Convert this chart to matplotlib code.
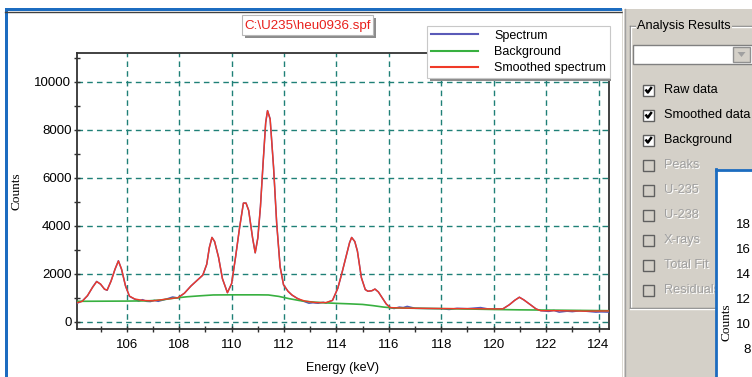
import matplotlib
matplotlib.use('Agg')
import matplotlib.pyplot as plt
from matplotlib.patches import Rectangle, Polygon
from matplotlib.ticker import MultipleLocator

plt.rcParams['font.family'] = ['Liberation Sans', 'DejaVu Sans']

# ---------------- data ----------------
smooth_energy = [104.1, 104.3, 104.5, 104.7, 104.85, 105.0, 105.15, 105.25, 105.4, 105.55,
                 105.68, 105.8, 105.95, 106.1, 106.3, 106.6, 107.0, 107.5, 107.95, 108.2,
                 108.45, 108.65, 108.9, 109.05, 109.15, 109.25, 109.35, 109.5, 109.65, 109.84,
                 110.0, 110.15, 110.3, 110.45, 110.55, 110.65, 110.8, 110.9, 111.0, 111.1,
                 111.2, 111.3, 111.37, 111.47, 111.6, 111.72, 111.85, 111.98, 112.15, 112.3,
                 112.5, 112.8, 113.2, 113.6, 113.85, 114.05, 114.2, 114.35, 114.5, 114.58,
                 114.7, 114.8, 114.95, 115.1, 115.2, 115.35, 115.47, 115.6, 115.75, 115.9,
                 116.05, 116.5, 117.0, 118.0, 119.0, 120.0, 120.35, 120.6, 120.8, 120.98,
                 121.15, 121.4, 121.62, 121.8, 122.5, 123.5, 124.4]
smooth_counts = [800, 860, 1100, 1450, 1680, 1580, 1360, 1330, 1700, 2200,
                 2540, 2200, 1500, 1080, 960, 900, 880, 950, 1010, 1200,
                 1500, 1700, 1950, 2400, 3100, 3520, 3350, 2700, 1800, 1220,
                 1600, 2700, 3900, 4950, 4950, 4650, 3500, 2880, 3500, 4800,
                 6600, 8300, 8800, 8450, 6450, 4100, 2300, 1550, 1280, 1130,
                 980, 870, 810, 810, 900, 1400, 2000, 2650, 3300, 3520,
                 3350, 2950, 1850, 1350, 1280, 1300, 1370, 1250, 1000, 750,
                 600, 580, 570, 560, 555, 545, 545, 720, 900, 1030,
                 920, 720, 540, 470, 470, 450, 460]

bg_energy = [104.1, 105.0, 106.0, 106.8, 107.3, 107.8, 108.3, 108.8, 109.3, 110.0,
             111.0, 111.4, 111.8, 112.2, 112.6, 113.0, 113.5, 114.0, 114.5, 115.0,
             115.4, 115.8, 116.1, 117.0, 118.0, 119.0, 120.0, 121.0, 122.0, 123.0, 124.4]
bg_counts = [860, 865, 870, 880, 915, 990, 1050, 1090, 1125, 1130,
             1130, 1125, 1065, 970, 890, 840, 800, 775, 755, 730,
             680, 620, 590, 570, 555, 540, 520, 505, 495, 485, 470]

raw_energy = [104.1, 104.3, 104.5, 104.7, 104.85, 105.0, 105.15, 105.25, 105.4, 105.55,
              105.68, 105.8, 105.95, 106.1, 106.3, 106.45, 106.6, 106.75, 106.9, 107.05,
              107.2, 107.5, 107.75, 107.95, 108.2, 108.45, 108.65, 108.9, 109.05, 109.15,
              109.25, 109.35, 109.5, 109.65, 109.84, 110.0, 110.15, 110.3, 110.45, 110.55,
              110.65, 110.8, 110.9, 111.0, 111.1, 111.2, 111.3, 111.37, 111.47, 111.6,
              111.72, 111.85, 111.98, 112.15, 112.3, 112.5, 112.65, 112.8, 112.95, 113.1,
              113.3, 113.5, 113.6, 113.85, 114.05, 114.2, 114.35, 114.5, 114.58, 114.7,
              114.8, 114.95, 115.1, 115.2, 115.35, 115.47, 115.6, 115.75, 115.9, 116.05,
              116.2, 116.4, 116.55, 116.7, 116.85, 117.0, 117.5, 118.0, 118.3, 118.6,
              119.0, 119.5, 119.8, 120.0, 120.35, 120.6, 120.8, 120.98, 121.15, 121.4,
              121.62, 121.8, 122.1, 122.3, 122.5, 122.8, 123.0, 123.3, 123.6, 123.9,
              124.1, 124.4]
raw_counts = [780, 870, 1090, 1460, 1690, 1570, 1370, 1320, 1710, 2190,
              2550, 2190, 1510, 1070, 950, 870, 930, 860, 850, 900,
              860, 950, 1040, 1000, 1200, 1500, 1700, 1950, 2400, 3100,
              3520, 3350, 2700, 1800, 1220, 1600, 2700, 3900, 4950, 4950,
              4650, 3500, 2880, 3500, 4800, 6600, 8300, 8800, 8450, 6450,
              4100, 2300, 1550, 1280, 1120, 990, 900, 840, 780, 800,
              780, 820, 790, 900, 1400, 2000, 2650, 3300, 3520, 3350,
              2950, 1850, 1350, 1280, 1300, 1370, 1250, 1000, 750, 600,
              560, 620, 600, 650, 610, 570, 560, 555, 520, 570,
              555, 600, 540, 545, 545, 720, 900, 1030, 920, 720,
              540, 470, 440, 480, 410, 450, 430, 470, 440, 410,
              420, 410]

series_labels = ['Spectrum', 'Background', 'Smoothed spectrum']
file_title = r'C:\U235\heu0936.spf'
x_ticks = [106, 108, 110, 112, 114, 116, 118, 120, 122, 124]
y_ticks = [0, 2000, 4000, 6000, 8000, 10000]
x_label = 'Energy (keV)'
y_label = 'Counts'
panel_title = 'Analysis Results'
option_labels = ['Raw data', 'Smoothed data', 'Background', 'Peaks', 'U-235',
                 'U-238', 'X-rays', 'Total Fit', 'Residuals']
option_checked = [True, True, True, False, False, False, False, False, False]
inset_ticks = ['18', '16', '14', '12', '10', '8']
inset_label = 'Counts'

# ---------------- figure ----------------
W, H = 752, 377
fig = plt.figure(figsize=(W / 100, H / 100), dpi=100)
fig.patch.set_facecolor('white')


def px_axes(x0, y0, x1, y1):
    return [x0 / W, 1 - y1 / H, (x1 - x0) / W, (y1 - y0) / H]


BLUE = '#1c6cc0'
PANEL = '#d4d0c8'
UI_FS = 9.2

ui = fig.add_axes([0, 0, 1, 1], zorder=0)
ui.set_xlim(0, W)
ui.set_ylim(H, 0)
ui.axis('off')

# window frame
ui.add_patch(Rectangle((5, 8), 617, 3, fc=BLUE, ec='none'))
ui.plot([5, 622], [11.8, 11.8], color='#404040', lw=1.0)
ui.add_patch(Rectangle((5, 8), 2.5, H - 8, fc=BLUE, ec='none'))

# right panel
ui.add_patch(Rectangle((622, 9), W - 622, H - 9, fc=PANEL, ec='none'))
ui.plot([622.5, 622.5], [9, H], color='#ffffff', lw=1)
ui.plot([624.5, 624.5], [9, H], color='#a0a0a0', lw=1)
# group box
ui.plot([630, W], [26, 26], color='#808080', lw=1)
ui.plot([630, W], [27, 27], color='#ffffff', lw=1)
ui.plot([630, 630], [26, 308], color='#808080', lw=1)
ui.plot([631, 631], [27, 308], color='#ffffff', lw=1)
ui.plot([630, 716], [308, 308], color='#808080', lw=1)
ui.plot([630, 716], [309, 309], color='#ffffff', lw=1)
ui.text(637, 26, panel_title, fontsize=UI_FS, va='center', ha='left', color='black',
        bbox=dict(fc=PANEL, ec='none', pad=1))
# combobox
ui.add_patch(Rectangle((633, 45), 122, 19, fc='white', ec='#808080', lw=1))
ui.add_patch(Rectangle((733, 47), 17, 15, fc=PANEL, ec='#909090', lw=1))
ui.add_patch(Polygon([(737.5, 52), (745.5, 52), (741.5, 57)], closed=True, fc='#a0a0a0', ec='none'))
# checkboxes
for i, (lab, chk) in enumerate(zip(option_labels, option_checked)):
    y = 90 + i * 25
    ui.add_patch(Rectangle((643, y - 5.5), 11, 11, fc='white' if chk else PANEL, ec='#606060', lw=1))
    if chk:
        ui.plot([645.5, 647.8, 651.8], [y - 0.5, y + 2.5, y - 3.0], color='black', lw=1.8,
                solid_capstyle='butt')
        ui.text(664, y, lab, fontsize=UI_FS, va='center', ha='left', color='black')
    else:
        ui.text(665, y + 1, lab, fontsize=UI_FS, va='center', ha='left', color='white')
        ui.text(664, y, lab, fontsize=UI_FS, va='center', ha='left', color='#a0a0a0')
# inset window
ui.add_patch(Rectangle((716, 170), 40, 210, fc='white', ec='none', zorder=5))
ui.plot([716, 716], [169, H], color=BLUE, lw=2, zorder=6)
ui.plot([716, W], [170, 170], color=BLUE, lw=2, zorder=6)
for i, t in enumerate(inset_ticks):
    ui.text(751, 225 + 25 * i, t, fontsize=9.5, va='center', ha='right', color='black', zorder=7)
ui.text(727, 322, inset_label, fontsize=9.5, rotation=90, va='center', ha='center',
        family='Liberation Serif', zorder=7)

# ---------------- chart ----------------
ax = fig.add_axes(px_axes(77, 53, 609, 328.7), zorder=1)
ax.set_facecolor('white')
l_raw, = ax.plot(raw_energy, raw_counts, color='#5a5ab8', lw=1.1, zorder=3)
l_bg, = ax.plot(bg_energy, bg_counts, color='#38b040', lw=1.2, zorder=4)
l_sm, = ax.plot(smooth_energy, smooth_counts, color='#f03a28', lw=1.0, zorder=5)

ax.set_xlim(104.1, 124.4)
ax.set_ylim(-280, 11200)
ax.set_xticks(x_ticks)
ax.set_yticks(y_ticks)
ax.xaxis.set_minor_locator(MultipleLocator(1))
ax.yaxis.set_minor_locator(MultipleLocator(1000))
ax.grid(which='major', color='#1f8077', linestyle=(0, (4, 3)), linewidth=1.0)
ax.set_axisbelow(True)
ax.tick_params(which='both', direction='inout', length=5, width=1, color='#303030')
ax.tick_params(axis='y', labelsize=9.5, pad=1.5)
ax.tick_params(axis='x', labelsize=9.5, pad=5)
for s in ax.spines.values():
    s.set_color('#333333')
    s.set_linewidth(1.3)
ax.set_xlabel(x_label, fontsize=9)
ax.xaxis.set_label_coords(0.5, -0.1425)
ax.xaxis.label.set_va('center')
ax.set_ylabel(y_label, fontsize=9.5, family='Liberation Serif')
ax.yaxis.set_label_coords(-0.103, 0.5)

# ---------------- overlay (title box + legend) ----------------
top = fig.add_axes([0, 0, 1, 1], zorder=3)
top.set_xlim(0, W)
top.set_ylim(H, 0)
top.axis('off')
top.patch.set_alpha(0)
top.add_patch(Rectangle((245, 18), 131, 20, fc='#8c8c8c', ec='none'))
top.add_patch(Rectangle((242, 15), 131, 20, fc='white', ec='#b8b8b8', lw=0.8))
top.text(307.5, 25.5, file_title, fontsize=9.6, ha='center', va='center', color='#e8201c')

top.add_patch(Rectangle((430, 29), 181, 52, fc='#8c8c8c', ec='none', zorder=1))
leg = top.legend([l_raw, l_bg, l_sm], series_labels, loc='upper left',
                 bbox_to_anchor=(427, 26), bbox_transform=top.transData, borderaxespad=0,
                 fontsize=9, handlelength=3.8, handletextpad=1.28, labelspacing=0.34,
                 borderpad=0.3, frameon=True, fancybox=False, edgecolor='#c8c8c8',
                 framealpha=1)
leg.get_frame().set_linewidth(0.8)
leg.set_zorder(5)
for ln in leg.get_lines():
    ln.set_linewidth(1.5)

fig.savefig('out.png', dpi=100)
